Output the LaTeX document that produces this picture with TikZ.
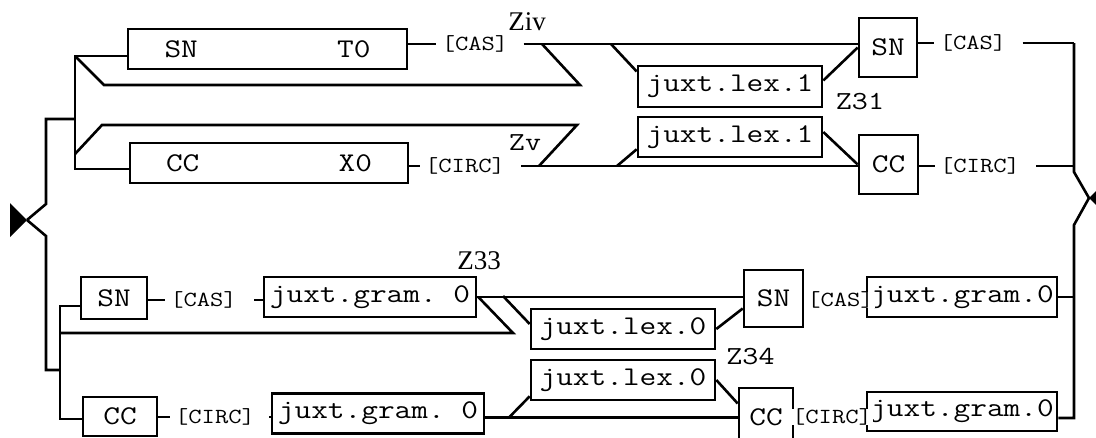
\documentclass[tikz,border=0pt]{standalone}
\usepackage{fontspec}
\setmonofont{Latin Modern Mono}[FakeStretch=1.2]
\newfontfamily\zfont{Liberation Serif}
\usepackage{tikz}
\usetikzlibrary{positioning}

\begin{document}
\begin{tikzpicture}[x=1pt,y=-1pt,line width=2.6pt,
  box/.style = {draw, rectangle, inner sep=0pt,
    font=\ttfamily\fontsize{27}{27}\selectfont},
  lbl/.style = {fill=white, inner xsep=4pt, inner ysep=0pt,
    font=\ttfamily\fontsize{21.5}{21.5}\selectfont},
  zser/.style = {inner sep=0pt, font=\zfont\fontsize{27}{27}\selectfont},
  zmono/.style = {inner sep=0pt, font=\ttfamily\fontsize{26}{26}\selectfont}]
  \useasboundingbox (0,0) rectangle (1096,437);
  \clip (0,0) rectangle (1096,437);

  \node[box, minimum width=279, minimum height=40] (st) at (267.5,49) {\makebox[206pt]{SN\hfill T0}};
  \node[box, minimum width=278, minimum height=40] (cx) at (269,163) {\makebox[206pt]{CC\hfill X0}};
  \node[box, minimum width=184, minimum height=41] (l1) at (730,86.5) {juxt.lex.1};
  \node[box, minimum width=184, minimum height=40] (l2) at (730,137) {juxt.lex.1};
  \node[box, minimum width=58, minimum height=59] (sn1) at (888,47.5) {SN};
  \node[box, minimum width=59, minimum height=59] (cc1) at (888.5,164.5) {CC};
  \node[lbl] (cas0) at (475,44) {[CAS]};
  \node[lbl] (circ0) at (465,166) {[CIRC]};
  \node[lbl] (cas1) at (973,43) {[CAS]};
  \node[lbl] (circ1) at (980,166) {[CIRC]};
  \node[zser] (ziv) at (527,22) {Ziv};
  \node[zmono] (zv) at (525,143) {Zv};
  \node[zmono] (z31) at (860,102) {Z31};

  \node[box, minimum width=66, minimum height=42] (sn2) at (114,298) {SN};
  \node[box, minimum width=74, minimum height=39] (cc2) at (120,416.5) {CC};
  \node[box, minimum width=212, minimum height=40] (jg1) at (370,297) {juxt.gram. 0};
  \node[box, minimum width=212, minimum height=40] (jg2) at (378,413.5) {juxt.gram. 0};
  \node[box, minimum width=184, minimum height=40] (l3) at (623,329) {juxt.lex.0};
  \node[box, minimum width=184, minimum height=40] (l4) at (623,380) {juxt.lex.0};
  \node[box, minimum width=54, minimum height=59] (cc3) at (766,417.5) {CC};
  \node[box, minimum width=190, minimum height=40] (jg3) at (962,297) {juxt.gram.0};
  \node[box, minimum width=190, minimum height=39] (jg4) at (962,411.5) {juxt.gram.0};
  \node[lbl, inner xsep=1pt] (cas3) at (840.5,300) {[CAS]};
  \node[lbl, inner xsep=1pt] (circ3) at (832,417) {[CIRC]};
  \node[box, minimum width=59, minimum height=57] (sn3) at (773.5,298.5) {SN};
  \node[lbl] (cas2) at (203.5,300) {[CAS]};
  \node[lbl] (circ2) at (215,417) {[CIRC]};
  \node[zser] (z33) at (479,261) {Z33};
  \node[zmono] (z34) at (750.5,357) {Z34};

  \coordinate (tipL) at (27,220);
  \coordinate (kL1) at (46,204);
  \coordinate (kL2) at (46,236);
  \coordinate (fA) at (46,119);
  \coordinate (fB) at (46,370);
  \coordinate (up1) at (75,56);
  \coordinate (up2) at (75,169);
  \coordinate (up3) at (75,154);
  \coordinate (lo1) at (60,306);
  \coordinate (lo2) at (60,419);
  \coordinate (lo3) at (60,333);
  \coordinate (zA1) at (104,85);
  \coordinate (zA2) at (580,85);
  \coordinate (zA3) at (542,44);
  \coordinate (zB1) at (102,125);
  \coordinate (zB2) at (577,125);
  \coordinate (zB3) at (539,166);
  \coordinate (zC1) at (513,333);
  \coordinate (dA) at (611,44);
  \coordinate (dB) at (617,166);
  \coordinate (dC) at (503,296);
  \coordinate (dD) at (509,417.5);
  \coordinate (rt1) at (1074,43);
  \coordinate (kR1) at (1074,172);
  \coordinate (tipR) at (1089,198);
  \coordinate (kR2) at (1074,225);
  \coordinate (rb) at (1074,418);

  \fill (tipL) -- (10,203) -- (10,237) -- cycle;
  \fill (tipR) -- (1106,181) -- (1106,215) -- cycle;
  \draw (tipL) -- (kL1) -- (fA) -- (fA -| up1);
  \draw (tipL) -- (kL2) -- (fB) -- (fB -| lo1);
  \draw (st.west |- up1) -- (up1) -- (up2) -- (cx.west |- up2);
  \draw (sn2.west |- lo1) -- (lo1) -- (lo2) -- (cc2.west |- lo2);
  \draw (up1) -- (zA1) -- (zA2) -- (zA3);
  \draw (up3) -- (zB1) -- (zB2) -- (zB3);
  \draw (lo3) -- (zC1) -- ([xshift=1pt]jg1.east);

  \draw (st.east |- cas0) -- (cas0.west);
  \draw[shorten <=10pt] (cas0.east) -- (sn1.west |- cas0);
  \draw (cx.east |- circ0) -- (circ0.west);
  \draw[shorten <=11pt] (circ0.east) -- (cc1.west |- circ0);
  \draw (dA) -- ([yshift=15pt]l1.west);
  \draw ([yshift=6pt]l1.east) -- (sn1.west);
  \draw (dB) -- ([yshift=9pt]l2.south west);
  \draw ([yshift=5pt]l2.east) -- (cc1.west);
  \draw (sn1.east |- cas1) -- (cas1.west);
  \draw (cc1.east |- circ1) -- (circ1.west);
  \draw[shorten <=11pt] (cas1.east) -- (rt1);
  \draw[shorten <=11pt] (circ1.east) -- (circ1.east -| rt1);
  \draw (rt1) -- (kR1) -- (tipR) -- (kR2) -- (rb) -- (jg4.east |- rb);
  \draw (jg3.east) -- (jg3.east -| rb);

  \draw (sn2.east |- cas2) -- (cas2.west);
  \draw[shorten <=12pt] (cas2.east) -- (jg1.west |- cas2);
  \draw (cc2.east |- circ2) -- (circ2.west);
  \draw[shorten <=9pt] (circ2.east) -- (jg2.west |- circ2);
  \draw (jg1.east) -- (sn3.west |- jg1.east);
  \draw (dC) -- ([yshift=5pt]l3.west);
  \draw (l3.east) -- ([yshift=-10pt]sn3.west);
  \draw (jg2.east |- cc3.west) -- (cc3.west);
  \draw (dD) -- ([yshift=5pt]l4.south west);
  \draw (l4.east) -- ([yshift=14pt]cc3.west);
\end{tikzpicture}
\end{document}
